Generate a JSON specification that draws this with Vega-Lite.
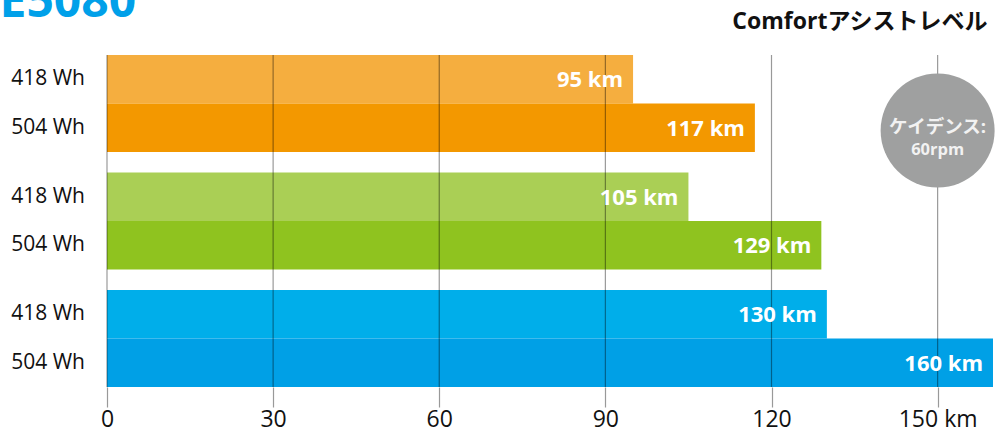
{
  "$schema": "https://vega.github.io/schema/vega-lite/v6.json",
  "width": 886,
  "height": 332,
  "autosize": {"type": "none"},
  "padding": {"left": 107, "top": 55, "right": 5, "bottom": 47},
  "background": "white",
  "config": {"font": "Open Sans, Noto Sans CJK JP", "view": {"stroke": null}},
  "data": {
    "values": [
      {"group": "A", "battery": "418 Wh", "km": 95, "series": "A418"},
      {"group": "A", "battery": "504 Wh", "km": 117, "series": "A504"},
      {"group": "B", "battery": "418 Wh", "km": 105, "series": "B418"},
      {"group": "B", "battery": "504 Wh", "km": 129, "series": "B504"},
      {"group": "C", "battery": "418 Wh", "km": 130, "series": "C418"},
      {"group": "C", "battery": "504 Wh", "km": 160, "series": "C504"}
    ]
  },
  "layer": [
    {
      "mark": {"type": "bar"},
      "encoding": {
        "y": {
          "field": "group", "type": "nominal",
          "scale": {"paddingInner": 0.1745, "paddingOuter": 0},
          "axis": {
            "labels": false, "ticks": false, "domain": false, "grid": false,
            "title": "E5080", "titleAngle": 0, "titleX": -108, "titleY": -39,
            "titleAlign": "left", "titleBaseline": "alphabetic",
            "titleFontSize": 48, "titleFontWeight": "bold", "titleColor": "#00A0E9"
          }
        },
        "yOffset": {"field": "battery", "type": "nominal", "scale": {"paddingInner": 0, "paddingOuter": 0}},
        "x": {
          "field": "km", "type": "quantitative",
          "scale": {"domain": [0, 160], "nice": false},
          "axis": {
            "values": [0, 30, 60, 90, 120, 150],
            "labelExpr": "datum.value == 150 ? '150 km' : datum.label",
            "labelFlush": false, "labelOverlap": false,
            "grid": false, "domain": false,
            "tickSize": 20, "tickColor": "#000", "tickOpacity": 0.4, "tickWidth": 1.2,
            "labelFontSize": 23, "labelColor": "#111", "labelPadding": 1,
            "title": "Comfortアシストレベル", "titleX": 880, "titleY": -359,
            "titleAlign": "right", "titleBaseline": "alphabetic", "titleAngle": 0,
            "titleFontSize": 23, "titleFontWeight": "bold", "titleColor": "#111"
          }
        },
        "color": {
          "field": "series", "type": "nominal",
          "scale": {
            "domain": ["A418", "A504", "B418", "B504", "C418", "C504"],
            "range": ["#F5AE3F", "#F39800", "#AACF55", "#8FC31F", "#00AEEA", "#00A0E6"]
          },
          "legend": null
        }
      }
    },
    {
      "data": {"values": [{"g": 0}, {"g": 30}, {"g": 60}, {"g": 90}, {"g": 120}, {"g": 150}]},
      "mark": {"type": "rule", "color": "#000", "opacity": 0.4, "strokeWidth": 1.2},
      "encoding": {"x": {"field": "g", "type": "quantitative"}}
    },
    {
      "transform": [{"calculate": "datum.km + ' km'", "as": "label"}],
      "mark": {"type": "text", "align": "right", "baseline": "middle", "dx": -10, "dy": 1, "fontSize": 22, "fontWeight": "bold", "color": "white"},
      "encoding": {
        "x": {"field": "km", "type": "quantitative"},
        "y": {"field": "group", "type": "nominal"},
        "yOffset": {"field": "battery", "type": "nominal"},
        "text": {"field": "label"}
      }
    },
    {
      "mark": {"type": "text", "align": "right", "baseline": "middle", "dx": -22, "fontSize": 21, "color": "#111"},
      "encoding": {
        "x": {"datum": 0, "type": "quantitative"},
        "y": {"field": "group", "type": "nominal"},
        "yOffset": {"field": "battery", "type": "nominal"},
        "text": {"field": "battery"}
      }
    },
    {
      "data": {"values": [{"g": "A", "v": 150, "l1": "ケイデンス:", "l2": "60rpm"}]},
      "layer": [
        {
          "mark": {"type": "point", "shape": "circle", "filled": true, "size": 12996, "color": "#9FA0A0", "opacity": 1, "yOffset": 27},
          "encoding": {"x": {"field": "v", "type": "quantitative"}, "y": {"field": "g", "type": "nominal"}}
        },
        {
          "mark": {"type": "text", "align": "center", "baseline": "middle", "fontSize": 18.5, "fontWeight": "bold", "color": "#F2F2F2", "yOffset": 23.5},
          "encoding": {"x": {"field": "v", "type": "quantitative"}, "y": {"field": "g", "type": "nominal"}, "text": {"field": "l1"}}
        },
        {
          "mark": {"type": "text", "align": "center", "baseline": "middle", "fontSize": 16.5, "fontWeight": "bold", "color": "#F2F2F2", "yOffset": 46.5},
          "encoding": {"x": {"field": "v", "type": "quantitative"}, "y": {"field": "g", "type": "nominal"}, "text": {"field": "l2"}}
        }
      ]
    }
  ]
}
